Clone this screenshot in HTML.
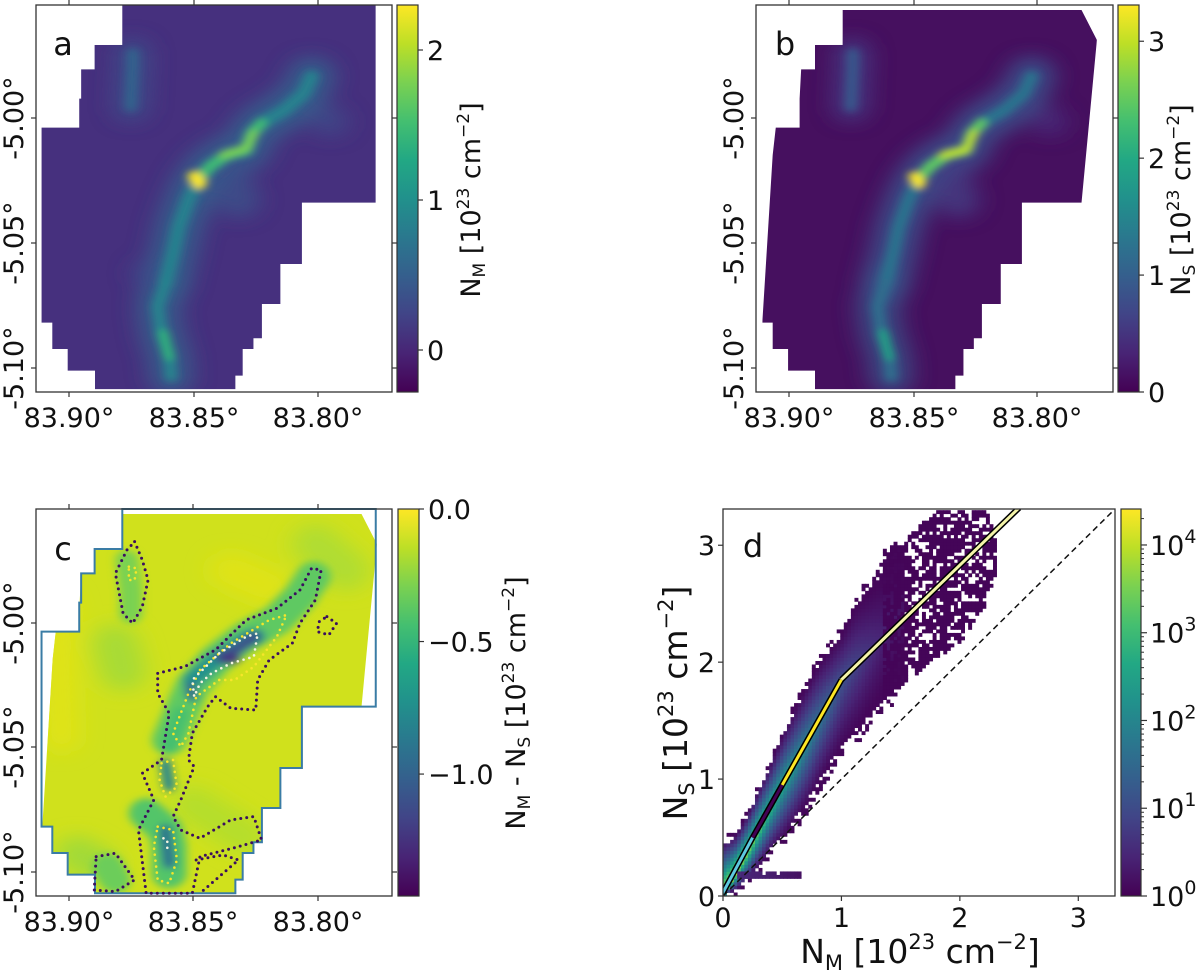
<!DOCTYPE html>
<html><head><meta charset="utf-8">
<style>
html,body{margin:0;padding:0;background:#fff;}
svg{display:block;font-family:"DejaVu Sans","Liberation Sans",sans-serif;}
</style></head>
<body>
<svg id="fig" width="1200" height="974" viewBox="0 0 1200 974" xmlns="http://www.w3.org/2000/svg">
<defs>
  <filter id="blur6" x="-50%" y="-50%" width="200%" height="200%"><feGaussianBlur stdDeviation="12 10"/></filter>
  <filter id="blur12" x="-50%" y="-50%" width="200%" height="200%"><feGaussianBlur stdDeviation="30 26"/></filter>
  <linearGradient id="vir" x1="0" y1="1" x2="0" y2="0">
    <stop offset="0" stop-color="#440154"/><stop offset="0.1" stop-color="#482475"/>
    <stop offset="0.2" stop-color="#414487"/><stop offset="0.3" stop-color="#355f8d"/>
    <stop offset="0.4" stop-color="#2a788e"/><stop offset="0.5" stop-color="#21918c"/>
    <stop offset="0.6" stop-color="#22a884"/><stop offset="0.7" stop-color="#44bf70"/>
    <stop offset="0.8" stop-color="#7ad151"/><stop offset="0.9" stop-color="#bddf26"/>
    <stop offset="1" stop-color="#fde725"/>
  </linearGradient>
  <clipPath id="clipA"><polygon id="polyAdef" points="318,15 977,15 977,608 785,608 785,792 729,792 729,912 681,912 681,1015 659,1015 659,1047 631,1047 631,1127 612,1127 612,1168 247,1168 247,1112 176,1112 176,1047 136,1047 136,968 108,968 108,383 206,383 206,296 211,296 211,208 246,208 246,135 318,135"/></clipPath>
  <clipPath id="clipB"><polygon points="319,30 940,30 980,120 940,608 785,608 785,792 730,792 730,912 681,912 681,1015 660,1015 660,1047 633,1047 633,1127 612,1127 612,1168 247,1168 247,1112 177,1112 177,1047 137,1047 137,968 110,968 137,465 145,383 207,383 207,296 211,208 247,208 247,135 319,135"/></clipPath>
  <clipPath id="clipD"><rect x="723" y="509" width="392" height="387"/></clipPath>
</defs>
<g id="root"></g>
</svg>
<script>
// ---------------- data arrays (panel d) ----------------
const nmPts   = [0, 0.1, 0.2, 0.3, 0.4, 0.5, 0.6, 0.7, 0.8, 0.9, 1.0, 1.1, 1.2, 1.3, 1.4, 1.5];
const nsUpper = [0.5, 0.55, 0.74, 0.98, 1.2, 1.45, 1.66, 1.86, 2.05, 2.18, 2.32, 2.56, 2.68, 2.8, 2.92, 2.95];
const nsLower = [0.0, 0.02, 0.1, 0.22, 0.35, 0.45, 0.58, 0.72, 0.9, 1.05, 1.19, 1.3, 1.42, 1.52, 1.62, 1.71];
const ridgeNS = [0.02, 0.2, 0.38, 0.57, 0.76, 0.95, 1.12, 1.3, 1.48, 1.66, 1.84, 1.96, 2.07, 2.18, 2.3, 2.4];
const peakLog = [4.3, 4.0, 3.6, 3.2, 2.9, 2.6, 2.3, 2.0, 1.7, 1.4, 1.1, 0.9, 0.7, 0.5, 0.35, 0.25];
const sparseNM   = [1.35, 1.6, 1.8, 2.0, 2.2, 2.3];
const sparseLow  = [1.7, 1.9, 2.05, 2.2, 2.5, 2.8];
const sparseHigh = [2.95, 3.1, 3.3, 3.3, 3.3, 3.0];
const fitNM = [0.0, 0.25, 0.5, 1.0, 2.5];
const fitNS = [0.03, 0.5, 0.95, 1.85, 3.32];
const fitColors = ['#5ec9e0', '#440154', '#fde725', '#f4f4a8'];
const dXTicks = [0, 1, 2, 3];
const dYTicks = [0, 1, 2, 3];
const dCbarExp = [0, 1, 2, 3, 4];
// map axes ticks
const raTicks = ['83.90°', '83.85°', '83.80°'];
const decTicks = ['-5.00°', '-5.05°', '-5.10°'];
const cbarATicks = [0, 1, 2];
const cbarBTicks = [0, 1, 2, 3];
const cbarCTicks = [0.0, -0.5, -1.0];

const NS = 'http://www.w3.org/2000/svg';
const root = document.getElementById('root');
function el(tag, attrs, parent) {
  const e = document.createElementNS(NS, tag);
  for (const k in attrs) e.setAttribute(k, attrs[k]);
  (parent || root).appendChild(e);
  return e;
}
function txt(s, attrs, parent) { const t = el('text', attrs, parent); t.textContent = s; return t; }
const VIR = ['#440154','#482475','#414487','#355f8d','#2a788e','#21918c','#22a884','#44bf70','#7ad151','#bddf26','#fde725'];
function hex(c){return [parseInt(c.slice(1,3),16),parseInt(c.slice(3,5),16),parseInt(c.slice(5,7),16)];}
function viridis(t){ t=Math.max(0,Math.min(1,t)); const f=t*10, i=Math.min(9,Math.floor(f)), r=f-i;
  const a=hex(VIR[i]), b=hex(VIR[i+1]); return 'rgb('+a.map((v,k)=>Math.round(v+(b[k]-v)*r)).join(',')+')'; }
function interp(xs, ys, x){ if(x<=xs[0]) return ys[0]; for(let i=1;i<xs.length;i++){ if(x<=xs[i]){const r=(x-xs[i-1])/(xs[i]-xs[i-1]); return ys[i-1]+r*(ys[i]-ys[i-1]);} } return ys[ys.length-1]; }

// ---------------- map panel helper ----------------
function mapPanel(cfg){
  const g = el('g', {transform: cfg.tf});
  
  
  const clip = el('g', {'clip-path': 'url(#' + cfg.clip + ')'}, g);
  el('rect', {x: 0, y: 0, width: 1300, height: 1300, fill: cfg.bg}, clip);
  const blurG = el('g', {filter: 'url(#blur12)'}, clip);
  cfg.glow.forEach(p => el('polyline', {points: p[0], fill: 'none', stroke: p[1], 'stroke-width': p[2], 'stroke-linecap': 'round', 'stroke-linejoin': 'round', opacity: p[3] || 1}, blurG));
  const fg = el('g', {filter: 'url(#blur6)'}, clip);
  cfg.core.forEach(p => el('polyline', {points: p[0], fill: 'none', stroke: p[1], 'stroke-width': p[2], 'stroke-linecap': 'round', 'stroke-linejoin': 'round', opacity: p[3] || 1}, fg));
  return g;
}
const spine = '430,850 450,760 465,680 490,600 513,545 545,500 590,465 640,450 655,400 680,370 740,330 790,280 810,230';
const spineUpper = '513,545 545,500 590,465 640,450 655,400 680,370';
const bottomBr = '430,850 410,920 420,1000 440,1070 445,1130';
const ulBr = '345,160 345,200 340,320';
const sideBr = '600,500 600,560 620,600';

function axesFrame(name, x0, y0, x1, y1){
  const r = el('rect', {x: x0, y: y0, width: x1-x0, height: y1-y0, fill: 'none', stroke: '#333', 'stroke-width': 1.3});
  
  
}
function mapAxes(name, x0, y0, x1, y1, xt, yt, lab, labX, labY){
  axesFrame(name, x0, y0, x1, y1);
  const ag = el('g', {});
  
  
  raTicks.forEach((s, i) => {
    const x = xt[i];
    el('line', {x1: x, y1: y1, x2: x, y2: y1+5, stroke: '#333', 'stroke-width': 1.2}, ag);
    el('line', {x1: x, y1: y0, x2: x, y2: y0-5, stroke: '#333', 'stroke-width': 1.2}, ag);
    const t = txt(s, {x: x, y: y1+35, 'font-size': 27, 'text-anchor': 'middle', fill: '#111'}, ag);
    
    
  });
  decTicks.forEach((s, i) => {
    const y = yt[i];
    el('line', {x1: x0, y1: y, x2: x0-5, y2: y, stroke: '#333', 'stroke-width': 1.2}, ag);
    el('line', {x1: x1, y1: y, x2: x1+5, y2: y, stroke: '#333', 'stroke-width': 1.2}, ag);
    const t = txt(s, {x: 0, y: 0, 'font-size': 27, 'text-anchor': 'middle', fill: '#111', transform: 'translate(' + (x0-13) + ',' + y + ') rotate(-90)'}, ag);
    
    
  });
  const pl = txt(lab, {x: labX, y: labY, 'font-size': 32, 'text-anchor': 'middle', fill: '#111'});
  
  
}
function colorbar(name, x0, y0, x1, y1, ticks, vmin, vmax, fmt, labelParts, lx, ly){
  const g = el('g', {});
  
  
  el('rect', {x: x0, y: y0, width: x1-x0, height: y1-y0, fill: 'url(#vir)', stroke: '#333', 'stroke-width': 1.2}, g);
  ticks.forEach(v => {
    const y = y1 - (v - vmin) / (vmax - vmin) * (y1 - y0);
    el('line', {x1: x1, y1: y, x2: x1+5, y2: y, stroke: '#333', 'stroke-width': 1.2}, g);
    const t = txt(fmt(v), {x: x1+9, y: y+10, 'font-size': 27, fill: '#111'}, g);
    
    
  });
  if (labelParts) {
    const t = el('text', {x: 0, y: 0, 'font-size': 27, 'text-anchor': 'middle', fill: '#111', transform: 'translate(' + lx + ',' + ly + ') rotate(-90)'}, g);
    
    
    labelParts.forEach(p => { const s = el('tspan', p[1] || {}, t); s.textContent = p[0]; });
  }
}
const subM = {'font-size': 17, dy: 5};
const back = {dy: -5};
const sup = {'font-size': 17, dy: -11};
const supBack = {dy: 11};

// ---------------- panel a ----------------
mapPanel({name: 'panel-a', tf: 'scale(0.3846,0.3333)', clip: 'clipA', bg: '#46307e',
  glow: [[spine, '#34608d', 120, 0.9], [bottomBr, '#32658d', 110, 0.8], [ulBr, '#3d4d8a', 90, 0.9], [sideBr, '#3b518b', 110, 0.8], ['850,360 860,365', '#3f4a89', 90, 0.8], ['380,820 400,840', '#3d4d8a', 80, 0.6]],
  core: [[spine, '#26828e', 36], [spineUpper, '#3fbc73', 30], ['505,530 520,550', '#fde725', 34], ['580,465 640,445 660,400', '#7ad151', 22], [bottomBr, '#25858e', 30], ['425,1000 440,1070', '#2fb47c', 26], [ulBr, '#33638d', 30]]});
mapAxes('panel-a', 36, 5, 392, 392, [69, 194, 318], [118, 243, 368], 'a', 63, 55);
colorbar('panel-a', 397, 5, 418, 392, cbarATicks, -0.28, 2.3, v => String(v), [['N'], ['M', subM], [' [10', back], ['23', sup], [' cm', supBack], ['−2', sup], [']', supBack]], 480, 200);

// ---------------- panel b ----------------
mapPanel({name: 'panel-b', tf: 'translate(720,0) scale(0.3846,0.3333)', clip: 'clipB', bg: '#46105f',
  glow: [[spine, '#3b528b', 120, 0.9], [bottomBr, '#38598c', 110, 0.8], [ulBr, '#453a83', 90, 0.9], [sideBr, '#433e85', 110, 0.8], ['850,360 860,365', '#472d7b', 90, 0.8]],
  core: [[spine, '#2c738e', 34], [spineUpper, '#5ec962', 30], ['505,530 520,550', '#fde725', 30], ['580,465 640,450 660,400', '#bddf26', 22], [bottomBr, '#2d708e', 30], ['425,1000 440,1070', '#20a386', 26], [ulBr, '#38598c', 30]]});
mapAxes('panel-b', 756, 5, 1113, 392, [789, 914, 1037], [118, 243, 368], 'b', 785, 55);
colorbar('panel-b', 1118, 5, 1139, 392, cbarBTicks, 0, 3.31, v => String(v), [['N'], ['S', subM], [' [10', back], ['23', sup], [' cm', supBack], ['−2', sup], [']', supBack]], 1190, 200);

// ---------------- panel c ----------------
(function(){
  const g = el('g', {transform: 'translate(0,480) scale(0.3846,0.3333)'});
  
  
  const inner = el('g', {transform: 'translate(0,72)'}, g);
  const clip = el('g', {'clip-path': 'url(#clipB)'}, inner);
  el('rect', {x: 0, y: 0, width: 1300, height: 1300, fill: '#d0e11c'}, clip);
  const bg = el('g', {filter: 'url(#blur12)'}, clip);
  [['300,420 320,500', '#a8db34', 120], ['820,120 900,200', '#b0dd30', 120], ['500,900 640,1000', '#b5de2b', 110], ['200,1050 250,1080', '#a2da37', 110], ['150,300 160,700', '#e0e318', 90], ['600,200 700,250', '#dfe318', 110]]
    .forEach(p => el('polyline', {points: p[0], fill: 'none', stroke: p[1], 'stroke-width': p[2], 'stroke-linecap': 'round'}, bg));
  const fg = el('g', {filter: 'url(#blur6)', 'clip-path': 'url(#clipB)'}, inner);
  const fgi = el('g', {transform: 'translate(0,-72)'}, fg);
  [['440,780 470,700 500,620 560,540 640,470 720,420 780,350 815,290', '#5ec962', 90],
   ['380,1000 430,1050 440,1100 440,1180', '#52c569', 90], ['330,240 340,330 340,400', '#7ad151', 60], ['280,1160 300,1200', '#6ccd5a', 80],
   ['500,600 560,540 640,480 665,470', '#21918c', 50], ['575,530 620,505 660,470', '#3b528b', 36], ['590,540 610,535', '#46337f', 30],
   ['495,620 500,650', '#31688e', 30], ['430,1050 440,1150', '#2c728e', 34], ['430,850 440,920', '#25858e', 30], ['470,700 440,800', '#44bf70', 40]]
   .forEach(p => el('polyline', {points: p[0], fill: 'none', stroke: p[1], 'stroke-width': p[2], 'stroke-linecap': 'round', 'stroke-linejoin': 'round'}, fgi));
  const dark = [
    '410,580 480,560 560,510 640,420 720,385 780,330 810,265 835,270 820,360 780,430 760,490 700,540 670,600 665,690 600,685 560,650 540,680 500,760 490,840 505,860 470,960 450,1010 470,1050 520,1075 600,1020 660,1010 680,1080 620,1100 520,1130 500,1240 380,1240 360,1050 400,960 370,880 420,840 440,700 410,640 410,580',
    '350,185 370,240 385,300 370,380 345,430 320,400 300,280 330,210 350,185',
    '850,410 875,430 855,465 825,455 830,425 850,410',
    '250,1130 300,1120 350,1200 300,1235 245,1230 250,1130',
    '510,1140 580,1125 620,1140 560,1200 520,1240'];
  const yellow = [
    '520,570 600,490 700,420 745,405 720,470 660,560 610,600 570,600 510,650 490,760 470,800 450,760 490,640 520,570',
    '410,1040 450,1050 460,1140 440,1210 410,1200 400,1100 410,1040',
    '420,850 450,840 460,920 430,950 415,900 420,850',
    '335,260 355,265 350,300 335,300 335,260'];
  const white = ['570,520 640,470 670,460 660,530 600,550 550,580 520,610 505,650 500,600 570,520', '425,1075 435,1080 435,1105 425,1100'];
  const cg = el('g', {}, g);
  
  
  dark.forEach(p => el('polyline', {points: p, fill: 'none', stroke: '#3b0f5e', 'stroke-width': 3, 'stroke-dasharray': '0 6', 'stroke-linecap': 'round', 'vector-effect': 'non-scaling-stroke'}, cg));
  yellow.forEach(p => el('polyline', {points: p, fill: 'none', stroke: '#f6e62a', 'stroke-width': 2.6, 'stroke-dasharray': '0 6', 'stroke-linecap': 'round', 'vector-effect': 'non-scaling-stroke'}, cg));
  white.forEach(p => el('polyline', {points: p, fill: 'none', stroke: '#f4f4e0', 'stroke-width': 2.6, 'stroke-dasharray': '0 6', 'stroke-linecap': 'round', 'vector-effect': 'non-scaling-stroke'}, cg));
  el('polygon', {points: document.getElementById('polyAdef').getAttribute('points'), fill: 'none', stroke: '#3a7ca5', 'stroke-width': 2, 'vector-effect': 'non-scaling-stroke'}, inner);
})();
mapAxes('panel-c', 36, 509, 392, 896, [69, 193, 318], [623, 747, 872], 'c', 63, 560);
colorbar('panel-c', 398, 509, 419, 896, cbarCTicks, -1.46, 0, v => (v === 0 ? '0.0' : '−' + Math.abs(v).toFixed(1)), [['N'], ['M', subM], [' - N', back], ['S', subM], [' [10', back], ['23', sup], [' cm', supBack], ['−2', sup], [']', supBack]], 525, 703);

// ---------------- panel d ----------------
const dX0 = 723, dX1 = 1115, dY0 = 509, dY1 = 896, dMax = 3.31;
const xs = v => dX0 + v / dMax * (dX1 - dX0);
const ys = v => dY1 - v / dMax * (dY1 - dY0);
const LOGMAX = 4.41;
const binW = 0.03;
const dPlot = el('g', {'clip-path': 'url(#clipD)'});


const hg = el('g', {}, dPlot);


function cell(nm, ns, lc){
  const r = el('rect', {x: xs(nm).toFixed(2), y: ys(ns + binW).toFixed(2), width: (xs(binW) - xs(0) + 0.4).toFixed(2), height: (ys(0) - ys(binW) + 0.4).toFixed(2), fill: viridis(lc / LOGMAX)}, hg);
  
}
function hash(i, j){ let h = (i * 374761393 + j * 668265263) >>> 0; h = ((h ^ (h >>> 13)) * 1274126177) >>> 0; return (h ^ (h >>> 16)) % 100; }
for (let i = 0; i * binW <= 1.5; i++) {
  const nm = i * binW;
  const lo = interp(nmPts, nsLower, nm), hi = interp(nmPts, nsUpper, nm);
  const r = interp(nmPts, ridgeNS, nm), pk = interp(nmPts, peakLog, nm);
  for (let j = Math.floor(lo / binW); j * binW <= hi; j++) {
    const ns = j * binW;
    const half = ns < r ? Math.max(0.05, r - lo) : Math.max(0.05, hi - r);
    const d = Math.min(1, Math.abs(ns - r) / half);
    const lc = Math.max(0.08, pk * Math.pow(1 - d, 1.4));
    if (d > 0.85 && hash(i, j) < 25) continue;
    cell(nm, ns, lc);
  }
  if (nm >= 0.1 && nm <= 0.63) { for (let j = 5; j <= 6; j++) if (hash(i, j) < 75) cell(nm, j * binW, 0.2 + 0.6 * (0.63 - nm)); }
}
for (let i = Math.round(sparseNM[0] / binW); i * binW <= sparseNM[sparseNM.length - 1]; i++) {
  const nm = i * binW;
  const lo = interp(sparseNM, sparseLow, nm), hi = interp(sparseNM, sparseHigh, nm);
  for (let j = Math.floor(lo / binW); j * binW <= Math.min(hi, 3.28); j++) {
    if (hash(i, j) < 40) cell(nm, j * binW, 0.05);
  }
}
const one = el('line', {x1: xs(0), y1: ys(0), x2: xs(dMax), y2: ys(dMax), stroke: '#111', 'stroke-width': 1.5, 'stroke-dasharray': '6,4'}, dPlot);


for (let k = 0; k < fitNM.length - 1; k++) {
  const a = [xs(fitNM[k]), ys(fitNS[k])], b = [xs(fitNM[k + 1]), ys(fitNS[k + 1])];
  const o = el('line', {x1: a[0], y1: a[1], x2: b[0], y2: b[1], stroke: '#000', 'stroke-width': 6}, dPlot);
  
  
  const s = el('line', {x1: a[0], y1: a[1], x2: b[0], y2: b[1], stroke: fitColors[k], 'stroke-width': 3}, dPlot);
  
  
}
axesFrame('panel-d', dX0, dY0, dX1, dY1);
const dTicks = el('g', {});


dXTicks.forEach(v => {
  el('line', {x1: xs(v), y1: dY1, x2: xs(v), y2: dY1 + 5, stroke: '#333', 'stroke-width': 1.2}, dTicks);
  const t = txt(String(v), {x: xs(v), y: 927, 'font-size': 27, 'text-anchor': 'middle', fill: '#111'}, dTicks);
  
  
});
dYTicks.forEach(v => {
  el('line', {x1: dX0, y1: ys(v), x2: dX0 - 5, y2: ys(v), stroke: '#333', 'stroke-width': 1.2}, dTicks);
  const t = txt(String(v), {x: dX0 - 8, y: ys(v) + 10, 'font-size': 27, 'text-anchor': 'end', fill: '#111'}, dTicks);
  
  
});
const dl = txt('d', {x: 753, y: 557, 'font-size': 32, 'text-anchor': 'middle', fill: '#111'});


const subB = {'font-size': 21, dy: 7}, backB = {dy: -7}, supB = {'font-size': 21, dy: -14}, supBackB = {dy: 14};
const xl = el('text', {x: 920, y: 963, 'font-size': 33, 'text-anchor': 'middle', fill: '#111'});


[['N'], ['M', subB], [' [10', backB], ['23', supB], [' cm', supBackB], ['−2', supB], [']', supBackB]].forEach(p => { const s = el('tspan', p[1] || {}, xl); s.textContent = p[0]; });
const yl = el('text', {x: 0, y: 0, 'font-size': 33, 'text-anchor': 'middle', fill: '#111', transform: 'translate(687,703) rotate(-90)'});


[['N'], ['S', subB], [' [10', backB], ['23', supB], [' cm', supBackB], ['−2', supB], [']', supBackB]].forEach(p => { const s = el('tspan', p[1] || {}, yl); s.textContent = p[0]; });
(function(){
  const x0 = 1121, x1 = 1141;
  const g = el('g', {});
  
  
  el('rect', {x: x0, y: dY0, width: x1 - x0, height: dY1 - dY0, fill: 'url(#vir)', stroke: '#333', 'stroke-width': 1.2}, g);
  const cy = e => dY1 - e / LOGMAX * (dY1 - dY0);
  for (let e = 0; e < 5; e++) for (let m = 2; m < 10; m++) {
    const y = cy(e + Math.log10(m));
    if (y > dY0) el('line', {x1: x1, y1: y, x2: x1 + 3, y2: y, stroke: '#333', 'stroke-width': 1}, g);
  }
  dCbarExp.forEach(e => {
    const y = cy(e);
    el('line', {x1: x1, y1: y, x2: x1 + 6, y2: y, stroke: '#333', 'stroke-width': 1.2}, g);
    const t = el('text', {x: x1 + 9, y: y + 10, 'font-size': 27, fill: '#111'}, g);
    
    
    const a = el('tspan', {}, t); a.textContent = '10';
    const b = el('tspan', {'font-size': 19, dy: -12}, t); b.textContent = String(e);
  });
})();
</script>
</body></html>
